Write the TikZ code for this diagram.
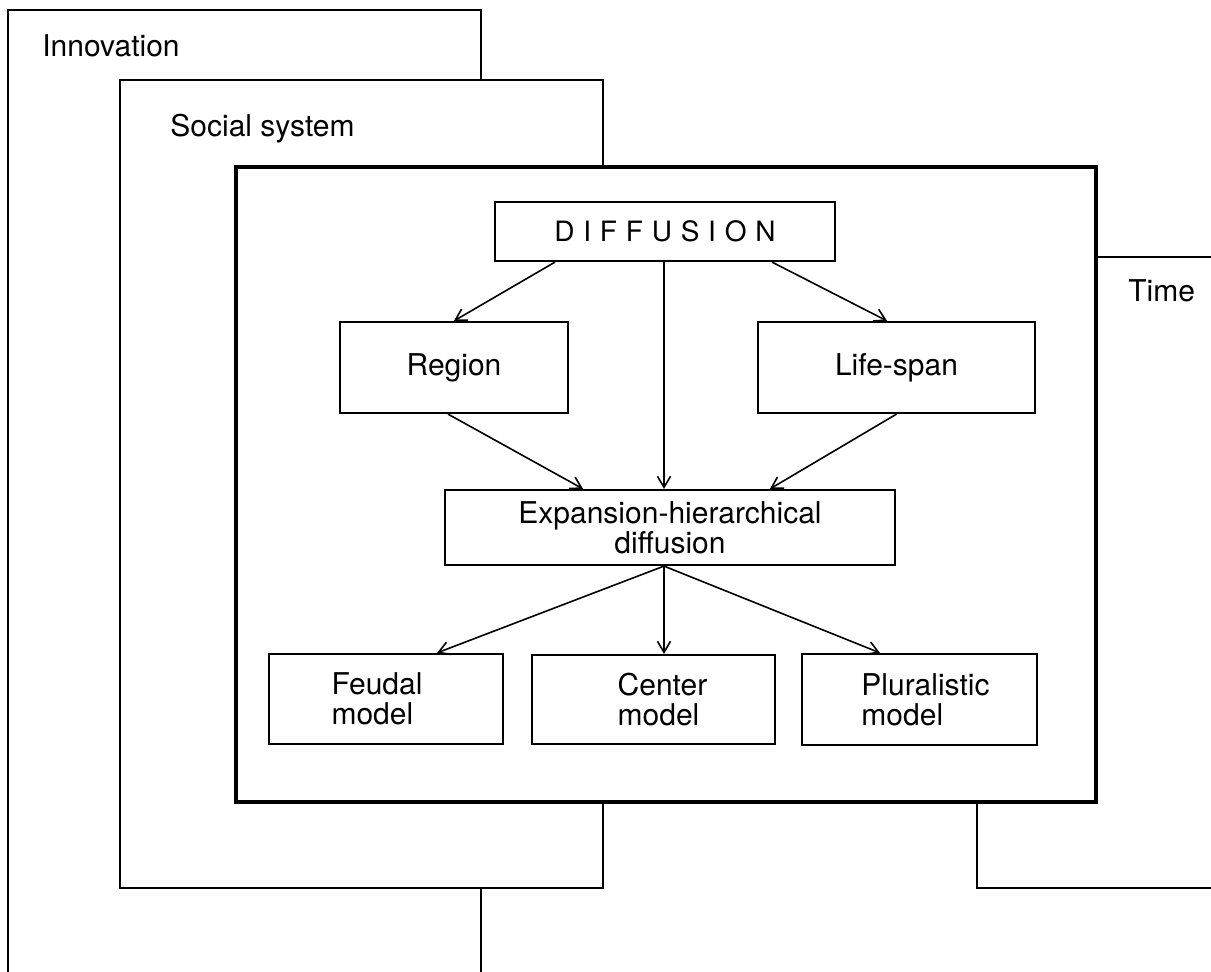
\documentclass[tikz,border=0pt]{standalone}
\usepackage{fontspec}
\setmainfont{TeX Gyre Heros}
\usetikzlibrary{arrows.meta}
\begin{document}
\begin{tikzpicture}[x=0.5pt,y=-0.5pt,
  frame/.style={draw=black,line width=1pt,fill=white},
  mainframe/.style={draw=black,line width=1.8pt,fill=white},
  box/.style={draw=black,line width=1.1pt,fill=white,inner sep=0pt,
    font=\fontsize{15pt}{15pt}\selectfont,align=center},
  lbl/.style={font=\fontsize{15pt}{15pt}\selectfont,inner sep=0pt,anchor=base west},
  arr/.style={line width=0.8pt,-{Straight Barb[length=5.5pt,width=6.5pt]}}]
\useasboundingbox (0,0) rectangle (1211,972);
\clip (0,0) rectangle (1211,972);
% frames
\path[frame] (8,995) -- (8,10) -- (481,10) -- (481,995);
\path[frame] (120,80) rectangle (603,888);
\path[frame] (1230,257) -- (977,257) -- (977,888) -- (1230,888);
\path[mainframe] (236,167) rectangle (1096,802);
% frame labels
\node[lbl] (innov) at (42,57) {Innovation};
\node[lbl] (soc) at (170,137) {Social system};
\node[lbl] (time) at (1128,302) {Time};
% boxes
\node[box,minimum width=170pt,minimum height=29.5pt,font=\fontsize{14pt}{14pt}\selectfont] (dif) at (665,231.5)
  {D\kern4.4pt I\kern4.4pt F\kern4.4pt F\kern4.4pt U\kern4.4pt S\kern4.4pt I\kern4.4pt O\kern4.4pt N};
\node[box,minimum width=114pt,minimum height=45.5pt] (reg) at (454,367.5) {Region};
\node[box,minimum width=138.5pt,minimum height=45.5pt] (life) at (896.5,367.5) {Life-span};
\node[box,minimum width=225pt,minimum height=37.5pt] (exp) at (670,527.5) {Expansion-hierarchical\\diffusion};
\node[box,minimum width=117pt,minimum height=45pt,align=left] (feu) at (386,699) {Feudal\hspace*{9pt}\\model};
\node[box,minimum width=121.5pt,minimum height=44.5pt,align=left] (cen) at (653.5,699.5) {\hspace*{9pt}Center\\\hspace*{9pt}model};
\node[box,minimum width=117.5pt,minimum height=45.5pt,align=left] (plu) at (919.5,699.5) {\hspace*{6pt}Pluralistic\\\hspace*{6pt}model};
% arrows
\draw[arr] ([xshift=-55pt]dif.south) -- (reg.north);
\draw[arr] ([xshift=53.5pt]dif.south) -- ([xshift=-4.75pt]life.north);
\draw[arr] ([xshift=-0.5pt]dif.south) -- ([xshift=-3pt]exp.north);
\draw[arr] ([xshift=-3pt]reg.south) -- ([xshift=-43.5pt]exp.north);
\draw[arr] (life.south) -- ([xshift=50pt]exp.north);
\draw[arr] ([xshift=-3pt]exp.south) -- ([xshift=25.5pt]feu.north);
\draw[arr] ([xshift=-3pt]exp.south) -- ([xshift=5.25pt]cen.north);
\draw[arr] ([xshift=-3pt]exp.south) -- ([xshift=-19.75pt]plu.north);
\end{tikzpicture}
\end{document}
